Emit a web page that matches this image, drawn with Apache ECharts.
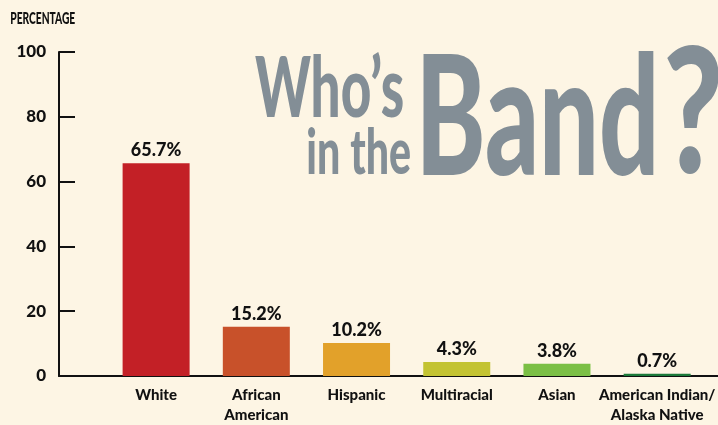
<!DOCTYPE html>
<html><head><meta charset="utf-8">
<script src="https://cdn.jsdelivr.net/npm/echarts@6/dist/echarts.min.js"></script>
<style>html,body{margin:0;padding:0;background:#fdf5e4;}#c{width:718px;height:425px;}</style>
</head><body><div id="c"></div>
<script>
const categories = ['White', 'African\nAmerican', 'Hispanic', 'Multiracial', 'Asian', 'American Indian/\nAlaska Native'];
const values = [65.7, 15.2, 10.2, 4.3, 3.8, 0.7];
const barColors = ['#c32026', '#c8512a', '#e2a12a', '#c3c332', '#7bbf45', '#1c7a3a'];
const yTicks = [0, 20, 40, 60, 80, 100];

const FONT = 'Lato, "Liberation Sans", Arial, sans-serif';
const GRAY = '#838e96';
const TITLE_FONT = '900 100px Lato, "Liberation Sans", sans-serif';

// fit a text string into a box [L,T,R,B] by scaling its real glyph bounds
function fitText(text, font, fill, L, T, R, B) {
  const ctx = document.createElement('canvas').getContext('2d');
  ctx.font = font; ctx.textBaseline = 'middle'; ctx.textAlign = 'left';
  const m = ctx.measureText(text);
  const abl = m.actualBoundingBoxLeft, abr = m.actualBoundingBoxRight;
  const a = m.actualBoundingBoxAscent, d = m.actualBoundingBoxDescent;
  const sx = (R - L) / (abl + abr), sy = (B - T) / (a + d);
  return { type: 'text', x: L + abl * sx, y: T + a * sy, scaleX: sx, scaleY: sy,
    style: { text: text, font: font, fill: fill, textVerticalAlign: 'middle', textAlign: 'left' } };
}

const chart = echarts.init(document.getElementById('c'));
chart.setOption({
  backgroundColor: '#fdf5e4',
  animation: false,
  graphic: [
    fitText('PERCENTAGE', '900 40px Lato, "Liberation Sans"', '#111', 11, 12, 75, 24),
    fitText('Who’s', TITLE_FONT, GRAY, 255, 52, 403, 118),
    fitText('in the', TITLE_FONT, GRAY, 308, 128, 410, 175),
    fitText('Band', TITLE_FONT, GRAY, 423, 52, 654, 177),
    fitText('?', TITLE_FONT, GRAY, 667, 47, 719, 175)
  ],
  grid: [
    { left: 106, right: 6, top: 52, bottom: 49 },
    { left: 59, right: 0, top: 52, bottom: 49 }
  ],
  xAxis: [
    {
      type: 'category', gridIndex: 0, data: categories,
      axisLine: { show: false }, axisTick: { show: false },
      axisLabel: { margin: 9, fontFamily: FONT, fontWeight: 900, fontSize: 15, color: '#111', lineHeight: 20, interval: 0 }
    },
    {
      type: 'value', gridIndex: 1, min: 0, max: 1,
      axisLine: { show: true, lineStyle: { color: '#111', width: 2 } },
      axisTick: { show: false }, axisLabel: { show: false }, splitLine: { show: false }
    }
  ],
  yAxis: [
    { type: 'value', gridIndex: 0, min: 0, max: 100, show: false },
    {
      type: 'value', gridIndex: 1, min: yTicks[0], max: yTicks[yTicks.length - 1], interval: 20,
      axisLine: { show: true, lineStyle: { color: '#111', width: 2 } },
      axisTick: { show: true, inside: true, length: 16, lineStyle: { color: '#111', width: 2 } },
      axisLabel: { margin: 13, padding: [8, 0, 0, 0], fontFamily: FONT, fontWeight: 900, fontSize: 17, color: '#111' },
      splitLine: { show: false }
    }
  ],
  series: [{
    type: 'bar', xAxisIndex: 0, yAxisIndex: 0, barWidth: 67,
    data: values.map((v, i) => ({ value: v, itemStyle: { color: barColors[i] } })),
    label: { show: true, position: 'top', distance: 4, formatter: '{c}%', fontFamily: FONT, fontWeight: 900, fontSize: 18, color: '#111' }
  }]
});
</script></body></html>
